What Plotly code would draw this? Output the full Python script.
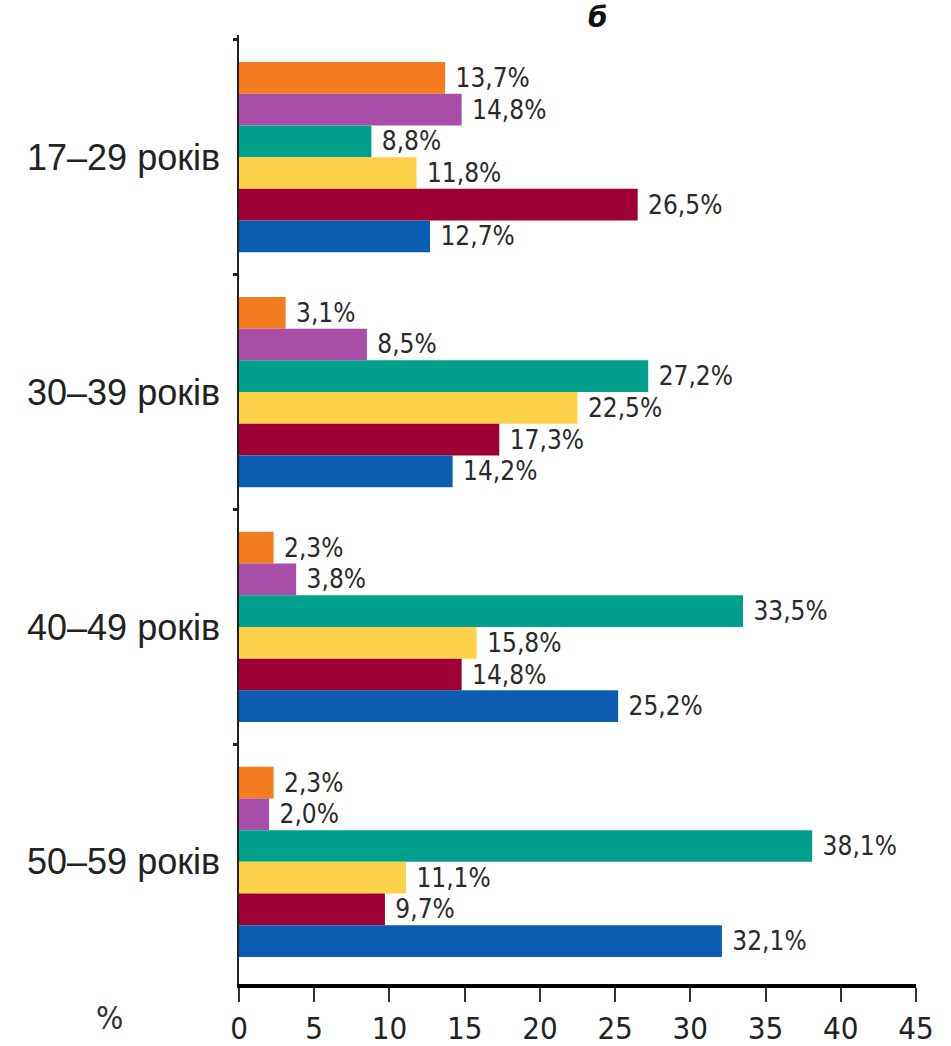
import plotly.graph_objects as go

# Age groups (top to bottom) and shares per group, %
age_groups = ["17–29 років", "30–39 років", "40–49 років", "50–59 років"]

orange = [13.7, 3.1, 2.3, 2.3]
purple = [14.8, 8.5, 3.8, 2.0]
teal = [8.8, 27.2, 33.5, 38.1]
yellow = [11.8, 22.5, 15.8, 11.1]
maroon = [26.5, 17.3, 14.8, 9.7]
blue = [12.7, 14.2, 25.2, 32.1]

x_ticks = [0, 5, 10, 15, 20, 25, 30, 35, 40, 45]

series = [
    (orange, "#F47B20"),
    (purple, "#A84DA8"),
    (teal, "#00A08C"),
    (yellow, "#FDD148"),
    (maroon, "#9E0033"),
    (blue, "#0B5DB2"),
]

NARROW = "DejaVu Sans Condensed, Liberation Sans Narrow, Arial Narrow, sans-serif"
label_font = dict(family=NARROW, size=26, color="#2a2a2a")

fig = go.Figure()
for vals, color in series:
    fig.add_trace(go.Bar(
        y=age_groups,
        x=vals,
        orientation="h",
        marker=dict(color=color, line=dict(width=0)),
        text=["\u00a0" + f"{v:.1f}%".replace(".", ",") for v in vals],
        textposition="outside",
        textfont=label_font,
        constraintext="none",
        cliponaxis=False,
        showlegend=False,
        hoverinfo="skip",
    ))

fig.update_layout(
    width=951,
    height=1046,
    margin=dict(l=239, r=35, t=35, b=62, autoexpand=False),
    paper_bgcolor="white",
    plot_bgcolor="white",
    barmode="group",
    bargap=0.19,
    bargroupgap=0,
    xaxis=dict(
        automargin=False,
        range=[0, 45],
        tickvals=x_ticks,
        ticktext=[str(t) for t in x_ticks],
        showgrid=False,
        zeroline=False,
        showline=True,
        linecolor="black",
        linewidth=4,
        ticks="outside",
        ticklen=14,
        tickwidth=1.5,
        tickcolor="#333333",
        ticklabelstandoff=0,
        tickfont=dict(family=NARROW, size=31, color="#222222"),
    ),
    yaxis=dict(
        automargin=False,
        autorange=False,
        range=[3.52, -0.52],
        showgrid=False,
        zeroline=False,
        showline=True,
        linecolor="#222222",
        linewidth=1.5,
        ticks="outside",
        tickson="boundaries",
        ticklen=4,
        tickwidth=3,
        tickcolor="#222222",
        ticklabelstandoff=10,
        tickfont=dict(family="Liberation Sans, Arial, sans-serif", size=36, color="#222222"),
    ),
)

fig.add_annotation(
    text="<b><i>б</i></b>", xref="paper", yref="paper",
    x=(598 - 239) / 677, y=1, yanchor="middle", yshift=18, showarrow=False,
    font=dict(family="DejaVu Sans, sans-serif", size=28, color="#111111"),
)
fig.add_annotation(
    text="%", xref="paper", yref="paper",
    x=(94 - 239) / 677, y=0, yanchor="middle", yshift=-34, showarrow=False,
    font=dict(family=NARROW, size=32, color="#333333"),
)

fig.write_html("out.html")
